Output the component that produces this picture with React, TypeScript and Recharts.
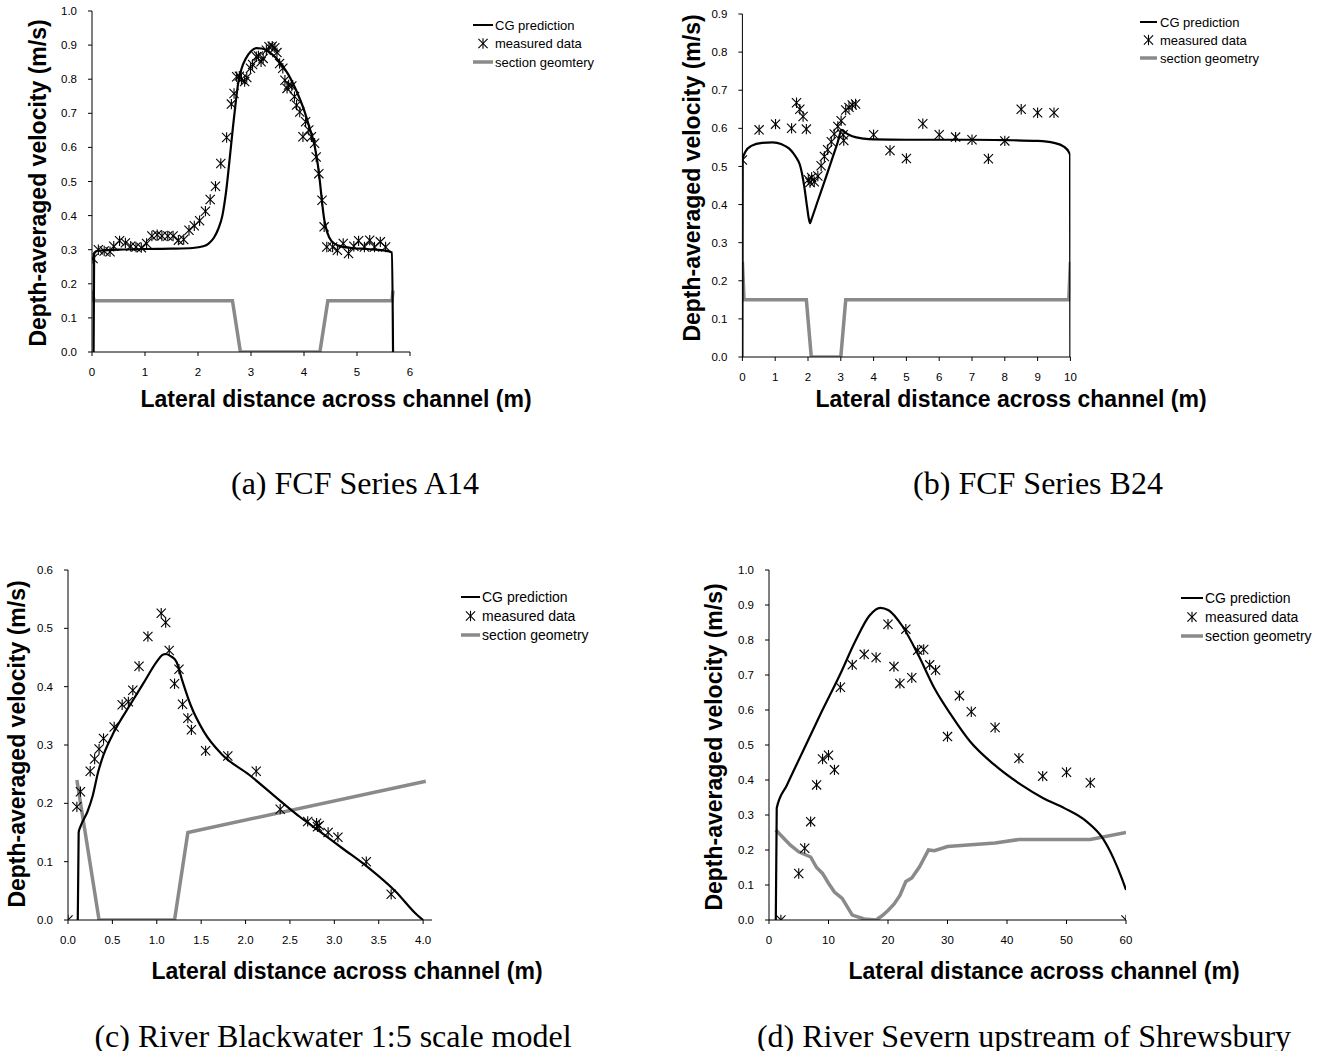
import React from "react";
import { ComposedChart, Line, Scatter, XAxis, YAxis, Legend } from "recharts";

const FONT = '"Liberation Sans", Arial, sans-serif';
const SERIF = '"Liberation Serif", "Times New Roman", serif';
const GREY = "#8a8a8a";

// (a) FCF Series A14
const aPrediction: [number, number][] = [
  [0.03, 0], [0.04, 0.29], [0.1, 0.297], [0.5, 0.3], [1.0, 0.302], [1.5, 0.303], [1.9, 0.305],
  [2.1, 0.31], [2.2, 0.318], [2.3, 0.335], [2.38, 0.36], [2.46, 0.4], [2.53, 0.47], [2.6, 0.57],
  [2.66, 0.66], [2.71, 0.73], [2.76, 0.79], [2.82, 0.83], [2.9, 0.86], [3.0, 0.882], [3.1, 0.891],
  [3.2, 0.89], [3.3, 0.884], [3.4, 0.873], [3.5, 0.858], [3.6, 0.838], [3.7, 0.815], [3.8, 0.785],
  [3.9, 0.75], [4.0, 0.71], [4.1, 0.66], [4.2, 0.605], [4.26, 0.55], [4.3, 0.5], [4.34, 0.44],
  [4.38, 0.39], [4.44, 0.35], [4.52, 0.325], [4.65, 0.312], [4.9, 0.305], [5.2, 0.302],
  [5.5, 0.298], [5.66, 0.292], [5.68, 0],
];
const aMeasured: [number, number][] = [
  [0.02, 0.274], [0.12, 0.3], [0.23, 0.296], [0.34, 0.294], [0.41, 0.31], [0.52, 0.326],
  [0.63, 0.32], [0.73, 0.31], [0.83, 0.308], [0.93, 0.306], [1.03, 0.318], [1.13, 0.34],
  [1.23, 0.344], [1.32, 0.34], [1.43, 0.34], [1.53, 0.34], [1.63, 0.328], [1.73, 0.33],
  [1.83, 0.357], [1.93, 0.37], [2.03, 0.385], [2.14, 0.413], [2.23, 0.447], [2.33, 0.486],
  [2.43, 0.553], [2.54, 0.629], [2.63, 0.727], [2.68, 0.758], [2.73, 0.807], [2.78, 0.809],
  [2.82, 0.8], [2.88, 0.793], [2.92, 0.805], [2.99, 0.832], [3.03, 0.843], [3.1, 0.866],
  [3.14, 0.868], [3.19, 0.851], [3.23, 0.861], [3.29, 0.885], [3.34, 0.895], [3.4, 0.897],
  [3.45, 0.892], [3.49, 0.878], [3.54, 0.846], [3.6, 0.832], [3.64, 0.797], [3.68, 0.773],
  [3.71, 0.783], [3.77, 0.78], [3.82, 0.749], [3.86, 0.724], [3.92, 0.704], [3.98, 0.631],
  [4.03, 0.675], [4.09, 0.651], [4.14, 0.631], [4.2, 0.612], [4.23, 0.572], [4.28, 0.523],
  [4.34, 0.445], [4.38, 0.367], [4.43, 0.308], [4.54, 0.308], [4.63, 0.298], [4.74, 0.318],
  [4.84, 0.289], [4.94, 0.31], [5.03, 0.326], [5.14, 0.308], [5.24, 0.328], [5.33, 0.308],
  [5.44, 0.323], [5.54, 0.308],
];
const aGeometry: [number, number][] = [
  [0, 0.18], [0.04, 0.15], [2.65, 0.15], [2.8, 0], [4.3, 0], [4.45, 0.15], [5.66, 0.15], [5.68, 0.18],
];

// (b) FCF Series B24
const bPrediction: [number, number][] = [
  [0, 0], [0.01, 0.52], [0.1, 0.54], [0.27, 0.554], [0.6, 0.562], [0.92, 0.563], [1.2, 0.558],
  [1.41, 0.548], [1.55, 0.535], [1.65, 0.522], [1.75, 0.505], [1.82, 0.48], [1.89, 0.445],
  [1.97, 0.395], [2.02, 0.365], [2.06, 0.351], [2.1, 0.36], [2.3, 0.41], [2.6, 0.485],
  [2.9, 0.562], [3.03, 0.596], [3.15, 0.588], [3.35, 0.579], [3.7, 0.573], [4, 0.571], [5, 0.57],
  [6, 0.57], [7, 0.57], [8, 0.569], [9, 0.567], [9.5, 0.562], [9.8, 0.552], [9.95, 0.538],
  [9.99, 0.53], [10, 0],
];
const bMeasured: [number, number][] = [
  [0, 0.517], [0.51, 0.596], [1.01, 0.611], [1.5, 0.6], [1.65, 0.667], [1.75, 0.65], [1.85, 0.631],
  [1.95, 0.598], [2.01, 0.465], [2.06, 0.458], [2.11, 0.471], [2.19, 0.46], [2.3, 0.475],
  [2.4, 0.502], [2.5, 0.526], [2.6, 0.544], [2.71, 0.565], [2.8, 0.585], [2.91, 0.605],
  [3.01, 0.62], [3.07, 0.583], [3.09, 0.568], [3.15, 0.648], [3.25, 0.655], [3.35, 0.661],
  [3.45, 0.664], [4.0, 0.583], [4.5, 0.542], [5.0, 0.521], [5.5, 0.612], [6.0, 0.583],
  [6.5, 0.577], [7.0, 0.57], [7.5, 0.52], [8.0, 0.567], [8.5, 0.65], [9.0, 0.641], [9.5, 0.641],
];
const bGeometry: [number, number][] = [
  [0, 0.25], [0.05, 0.15], [1.95, 0.15], [2.1, 0], [3.0, 0], [3.15, 0.15], [9.95, 0.15], [10, 0.25],
];

// (c) River Blackwater 1:5 scale model
const cPrediction: [number, number][] = [
  [0.11, 0], [0.12, 0.15], [0.14, 0.16], [0.22, 0.186], [0.28, 0.214], [0.34, 0.254], [0.4, 0.283],
  [0.52, 0.323], [0.7, 0.369], [0.85, 0.406], [1.0, 0.443], [1.06, 0.454], [1.1, 0.456],
  [1.16, 0.452], [1.22, 0.443], [1.29, 0.409], [1.38, 0.369], [1.53, 0.323], [1.74, 0.283],
  [2.04, 0.249], [2.4, 0.203], [2.61, 0.177], [2.79, 0.157], [3.09, 0.123], [3.39, 0.089],
  [3.69, 0.049], [3.93, 0.009], [4.0, 0],
];
const cMeasured: [number, number][] = [
  [0, 0], [0.1, 0.194], [0.14, 0.22], [0.25, 0.255], [0.3, 0.276], [0.35, 0.293], [0.4, 0.311],
  [0.52, 0.331], [0.61, 0.369], [0.68, 0.374], [0.73, 0.394], [0.8, 0.435], [0.9, 0.486],
  [1.05, 0.526], [1.1, 0.51], [1.14, 0.462], [1.2, 0.405], [1.25, 0.43], [1.29, 0.37],
  [1.35, 0.346], [1.39, 0.326], [1.55, 0.29], [1.8, 0.281], [2.12, 0.255], [2.39, 0.19],
  [2.7, 0.169], [2.8, 0.166], [2.81, 0.16], [2.83, 0.162], [2.93, 0.15], [3.04, 0.142],
  [3.36, 0.1], [3.64, 0.044],
];
const cGeometry: [number, number][] = [
  [0.1, 0.24], [0.35, 0], [1.2, 0], [1.35, 0.15], [4.03, 0.238],
];

// (d) River Severn upstream of Shrewsbury
const dPrediction: [number, number][] = [
  [1.14, 0], [1.3, 0.32], [3, 0.385], [5.5, 0.475], [8.7, 0.59], [11.9, 0.7], [14.6, 0.8],
  [16.9, 0.87], [18.7, 0.892], [20.1, 0.885], [22.4, 0.84], [25.1, 0.757], [27.8, 0.662],
  [30.6, 0.586], [33.8, 0.51], [37.9, 0.443], [42.4, 0.386], [46.1, 0.348], [49.7, 0.319],
  [53.4, 0.281], [56.1, 0.233], [57.9, 0.176], [59.3, 0.119], [60, 0.086],
];
const dMeasured: [number, number][] = [
  [2, 0], [5, 0.133], [6, 0.205], [7, 0.281], [8, 0.386], [9, 0.46], [10, 0.471], [11, 0.429],
  [12, 0.665], [14, 0.729], [16, 0.759], [18, 0.75], [20, 0.845], [21, 0.724], [22, 0.676],
  [23, 0.831], [24, 0.692], [25, 0.771], [26, 0.773], [27, 0.729], [28, 0.714], [30, 0.524],
  [32, 0.641], [34, 0.595], [38, 0.55], [42, 0.462], [46, 0.411], [50, 0.422], [54, 0.392],
  [60, 0],
];
const dGeometry: [number, number][] = [
  [1.14, 0.257], [3.6, 0.214], [5, 0.195], [7, 0.18], [8, 0.15], [9, 0.133], [10, 0.105],
  [11, 0.08], [12.3, 0.062], [14, 0.014], [16, 0.003], [18, 0], [19, 0.012], [20, 0.027],
  [21, 0.045], [22, 0.07], [23, 0.11], [24, 0.12], [25.3, 0.152], [26.8, 0.2], [27.8, 0.198],
  [30, 0.21], [34, 0.215], [38, 0.22], [42, 0.23], [50, 0.23], [54, 0.23], [60, 0.25],
];

const ticks = (from: number, to: number, step: number) => {
  const out: number[] = [];
  for (let v = from; v <= to + 1e-9; v += step) out.push(Math.round(v * 100) / 100);
  return out;
};

const toPts = (pairs: [number, number][]) => pairs.map(([x, y]) => ({ x, y }));

const Star = (props: any) => {
  const { cx, cy } = props;
  if (cx == null || cy == null) return null;
  const r = 5.2;
  const d = 4.6;
  return (
    <g stroke="#000" strokeWidth={1.1}>
      <line x1={cx} y1={cy - r} x2={cx} y2={cy + r} />
      <line x1={cx - d} y1={cy - d} x2={cx + d} y2={cy + d} />
      <line x1={cx - d} y1={cy + d} x2={cx + d} y2={cy - d} />
    </g>
  );
};

type PanelCfg = {
  left: number;
  top: number;
  width: number;
  height: number;
  margin: { top: number; right: number; bottom: number; left: number };
  xDomain: [number, number];
  xTicks: number[];
  xDigits: number;
  yDomain: [number, number];
  yTicks: number[];
  prediction: [number, number][];
  measured: [number, number][];
  geometry: [number, number][];
  xTitle: { x: number; y: number };
  yTitle: { x: number; y: number };
  legend: { left: number; top: number; lineFrom: number; lineTo: number; textX: number; gap: number; size: number };
  geometryLabel: string;
  caption: string;
  captionX: number;
  captionY: number;
};

const panels: PanelCfg[] = [
  {
    left: 0, top: 0, width: 670, height: 420,
    margin: { top: 11, right: 60, bottom: 38, left: 32 },
    xDomain: [0, 6], xTicks: ticks(0, 6, 1), xDigits: 0,
    yDomain: [0, 1], yTicks: ticks(0, 1, 0.1),
    prediction: aPrediction, measured: aMeasured, geometry: aGeometry,
    xTitle: { x: 336, y: 399 }, yTitle: { x: 38, y: 183 },
    legend: { left: 470, top: 16, lineFrom: 3, lineTo: 23, textX: 25, gap: 18.5, size: 13 },
    geometryLabel: "section geomtery",
    caption: "(a) FCF Series A14", captionX: 355, captionY: 483,
  },
  {
    left: 670, top: 0, width: 673, height: 420,
    margin: { top: 14, right: 72.6, bottom: 33, left: 12.4 },
    xDomain: [0, 10], xTicks: ticks(0, 10, 1), xDigits: 0,
    yDomain: [0, 0.9], yTicks: ticks(0, 0.9, 0.1),
    prediction: bPrediction, measured: bMeasured, geometry: bGeometry,
    xTitle: { x: 341, y: 399 }, yTitle: { x: 22, y: 178 },
    legend: { left: 467, top: 13, lineFrom: 3, lineTo: 20, textX: 23, gap: 18, size: 13 },
    geometryLabel: "section geometry",
    caption: "(b) FCF Series B24", captionX: 368, captionY: 483,
  },
  {
    left: 0, top: 540, width: 670, height: 511,
    margin: { top: 30, right: 38, bottom: 101, left: 8 },
    xDomain: [0, 4.1], xTicks: ticks(0, 4, 0.5), xDigits: 1,
    yDomain: [0, 0.6], yTicks: ticks(0, 0.6, 0.1),
    prediction: cPrediction, measured: cMeasured, geometry: cGeometry,
    xTitle: { x: 347, y: 431 }, yTitle: { x: 17, y: 204 },
    legend: { left: 458, top: 48, lineFrom: 3, lineTo: 22, textX: 24, gap: 19, size: 14 },
    geometryLabel: "section geometry",
    caption: "(c) River Blackwater 1:5 scale model", captionX: 333, captionY: 496,
  },
  {
    left: 670, top: 540, width: 673, height: 511,
    margin: { top: 30, right: 17, bottom: 101, left: 39 },
    xDomain: [0, 60], xTicks: ticks(0, 60, 10), xDigits: 0,
    yDomain: [0, 1], yTicks: ticks(0, 1, 0.1),
    prediction: dPrediction, measured: dMeasured, geometry: dGeometry,
    xTitle: { x: 374, y: 431 }, yTitle: { x: 44, y: 207 },
    legend: { left: 508, top: 49, lineFrom: 3, lineTo: 25, textX: 27, gap: 19, size: 14 },
    geometryLabel: "section geometry",
    caption: "(d) River Severn upstream of Shrewsbury", captionX: 354, captionY: 496,
  },
];

const tickStyle = { fill: "#000", fontSize: 11.5, fontFamily: FONT };

const Panel = ({ p }: { p: PanelCfg }) => {
  const lg = p.legend;
  const rows = ["CG prediction", "measured data", p.geometryLabel];
  const legendContent = () => (
    <svg width={200} height={3 * lg.gap + 4} style={{ display: "block" }}>
      {rows.map((label, i) => {
        const y = 9 + i * lg.gap;
        const mid = (lg.lineFrom + lg.lineTo) / 2;
        return (
          <g key={label}>
            {i === 0 && <line x1={lg.lineFrom} x2={lg.lineTo} y1={y} y2={y} stroke="#000" strokeWidth={2} />}
            {i === 1 && <Star cx={mid} cy={y} />}
            {i === 2 && <line x1={lg.lineFrom} x2={lg.lineTo} y1={y} y2={y} stroke={GREY} strokeWidth={3.5} />}
            <text x={lg.textX} y={y} dominantBaseline="central" fontSize={lg.size} fontFamily={FONT} fill="#000">
              {label}
            </text>
          </g>
        );
      })}
    </svg>
  );

  return (
    <div style={{ position: "absolute", left: p.left, top: p.top, width: p.width, height: p.height }}>
      <ComposedChart width={p.width} height={p.height} margin={p.margin}>
        <XAxis
          type="number"
          dataKey="x"
          domain={p.xDomain}
          ticks={p.xTicks}
          interval={0}
          allowDataOverflow
          tickFormatter={(v: number) => v.toFixed(p.xDigits)}
          tick={tickStyle}
          tickSize={4}
          tickMargin={12}
          stroke="#000"
          height={30}
          label={() => (
            <text x={p.xTitle.x} y={p.xTitle.y} textAnchor="middle" dominantBaseline="central"
              fontFamily={FONT} fontWeight="bold" fontSize={23} fill="#000">
              Lateral distance across channel (m)
            </text>
          )}
        />
        <YAxis
          type="number"
          dataKey="y"
          domain={p.yDomain}
          ticks={p.yTicks}
          interval={0}
          allowDataOverflow
          tickFormatter={(v: number) => v.toFixed(1)}
          tick={tickStyle}
          tickSize={4}
          tickMargin={11}
          stroke="#000"
          width={60}
          label={() => (
            <text x={p.yTitle.x} y={p.yTitle.y} textAnchor="middle" dominantBaseline="central"
              transform={`rotate(-90 ${p.yTitle.x} ${p.yTitle.y})`}
              fontFamily={FONT} fontWeight="bold" fontSize={23} fill="#000">
              Depth-averaged velocity (m/s)
            </text>
          )}
        />
        <Legend
          layout="horizontal"
          verticalAlign="middle"
          align="right"
          content={legendContent}
          wrapperStyle={{ left: lg.left, top: lg.top, width: 200, height: 3 * lg.gap + 4, right: "auto", bottom: "auto" }}
        />
        <Line
          data={toPts(p.geometry)}
          dataKey="y"
          type="linear"
          stroke={GREY}
          strokeWidth={3.5}
          dot={false}
          activeDot={false}
          isAnimationActive={false}
          name={p.geometryLabel}
        />
        <Line
          data={toPts(p.prediction)}
          dataKey="y"
          type="monotone"
          stroke="#000"
          strokeWidth={2.2}
          dot={false}
          activeDot={false}
          isAnimationActive={false}
          name="CG prediction"
        />
        <Scatter
          data={toPts(p.measured)}
          dataKey="y"
          shape={Star}
          isAnimationActive={false}
          name="measured data"
        />
      </ComposedChart>
      <div
        style={{
          position: "absolute",
          left: p.captionX,
          top: p.captionY,
          transform: "translate(-50%, -50%)",
          whiteSpace: "nowrap",
          fontFamily: SERIF,
          fontSize: 32,
          color: "#000",
        }}
      >
        {p.caption}
      </div>
    </div>
  );
};

export default function App() {
  return (
    <div style={{ position: "absolute", left: 0, top: 0, width: 1343, height: 1051, background: "#fff" }}>
      {panels.map((p) => (
        <Panel key={p.caption} p={p} />
      ))}
    </div>
  );
}
